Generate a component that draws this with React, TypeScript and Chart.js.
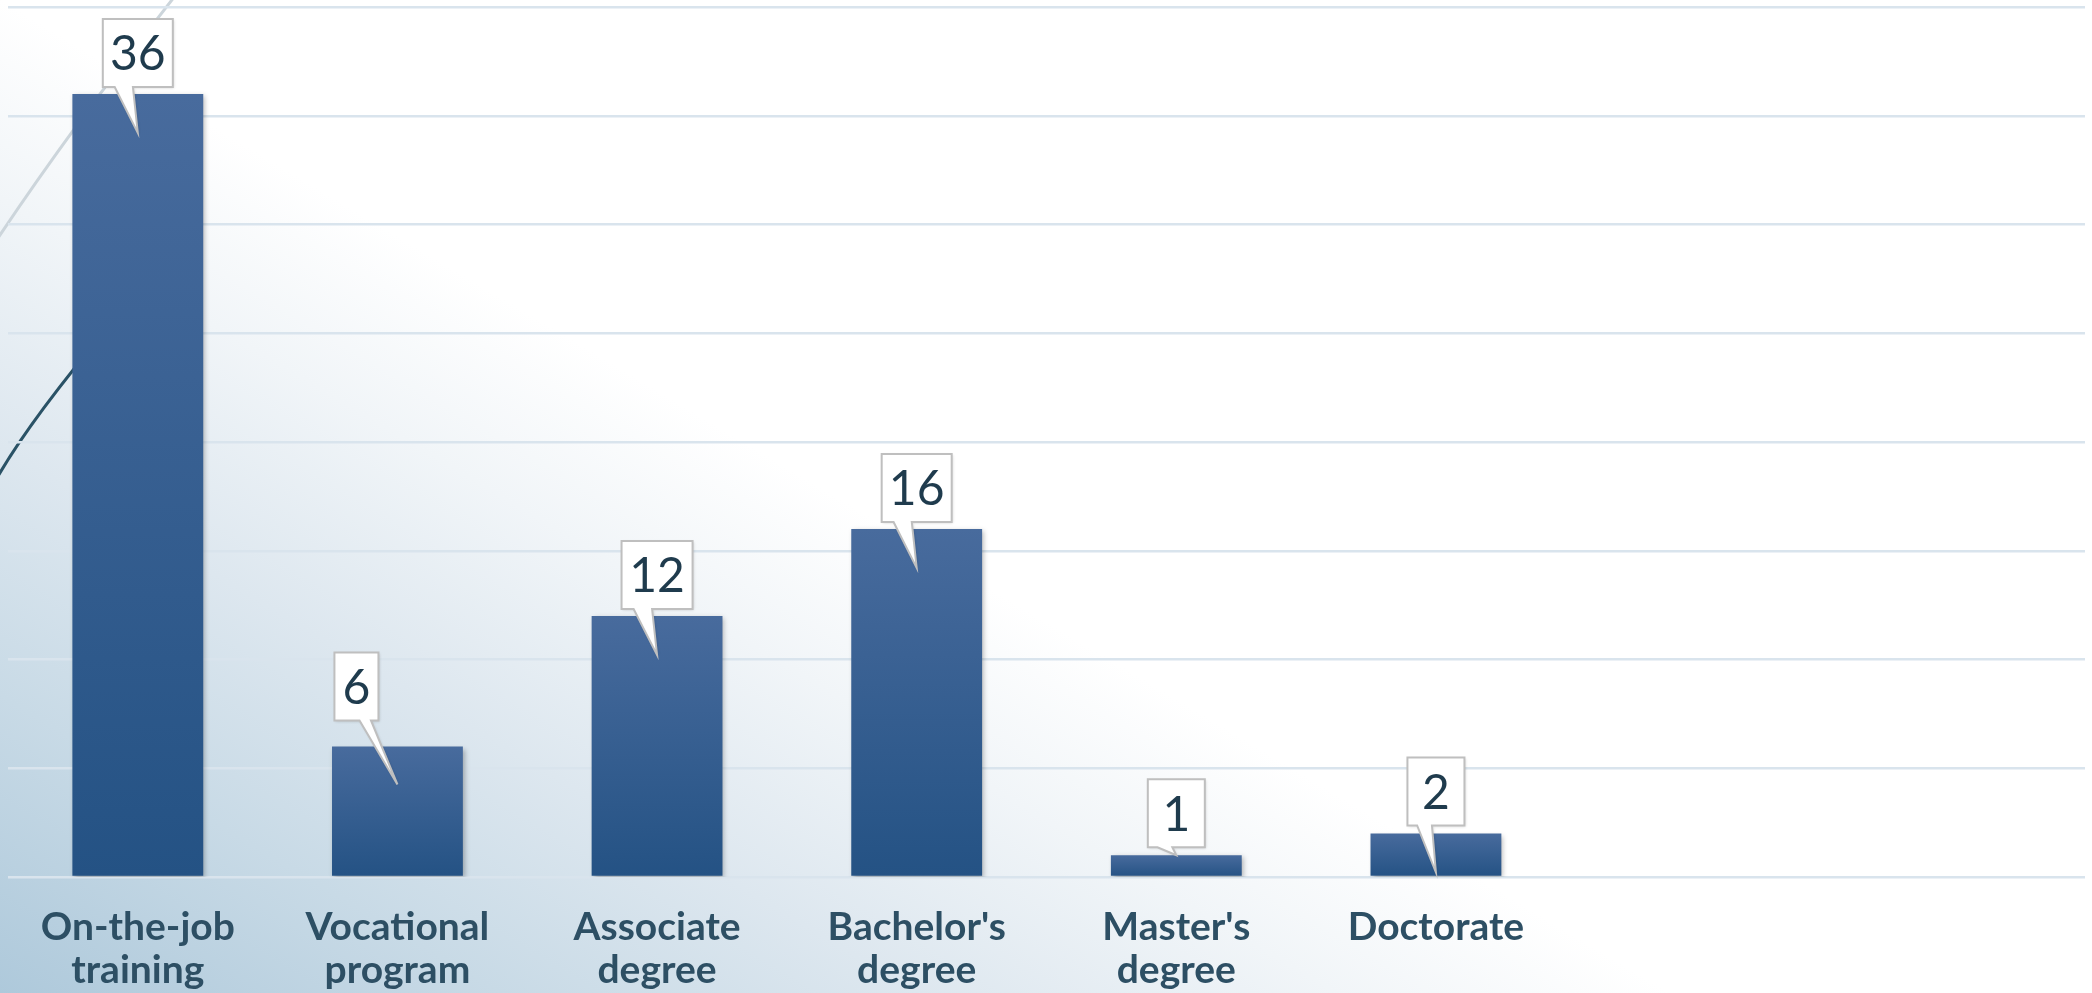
import { useEffect, useRef } from 'react';
import { Chart, registerables } from 'chart.js';

Chart.register(...registerables);

// ---- data ----
const categories: (string | string[])[] = [
  ['On-the-job', 'training'],
  ['Vocational', 'program'],
  ['Associate', 'degree'],
  ["Bachelor's", 'degree'],
  ["Master's", 'degree'],
  'Doctorate',
  '',
  '',
];
const values: (number | null)[] = [36, 6, 12, 16, 1, 2, null, null];
const yMin = 0;
const yMax = 40;
const yStep = 5;

// ---- callout styling (offset of box from bar centre, gap above bar, pointer depth into bar, box width) ----
const calloutDx = [0, -41, 0, 0, 0, 0];
const calloutGap = [7, 26, 7, 7, 8, 8];
const calloutDepth = [39, 38, 39, 39, 0, 39];
const calloutWidth = [70, 44, 71, 70, 57, 57];

const W = 2092;
const H = 993;
const LABEL_FONT = "'Lato', 'DejaVu Sans', sans-serif";
const TEXT_COLOR = '#2D4F64';

const backgroundPlugin = {
  id: 'slideBackground',
  beforeDraw(chart: any) {
    const ctx = chart.ctx as CanvasRenderingContext2D;
    ctx.save();
    const nx = 0.5111, ny = -0.8596, d = 854;
    const g = ctx.createLinearGradient(0, H, nx * d, H + ny * d);
    g.addColorStop(0, '#AEC9DB');
    g.addColorStop(0.3, '#C8DAE6');
    g.addColorStop(0.55, '#DDE7EF');
    g.addColorStop(0.8, '#F1F5F8');
    g.addColorStop(1, '#FFFFFF');
    ctx.fillStyle = g;
    ctx.fillRect(0, 0, W, H);

    ctx.lineCap = 'round';
    ctx.strokeStyle = '#CCD5DB';
    ctx.lineWidth = 3;
    ctx.beginPath();
    ctx.moveTo(-2, 238);
    ctx.quadraticCurveTo(70, 130, 175, -4);
    ctx.stroke();

    ctx.strokeStyle = '#2A5266';
    ctx.lineWidth = 3;
    ctx.beginPath();
    ctx.moveTo(-3, 478);
    ctx.quadraticCurveTo(30, 420, 110, 325);
    ctx.stroke();
    ctx.restore();
  },
};

const calloutPlugin = {
  id: 'callouts',
  beforeDatasetsDraw(chart: any) {
    const ctx = chart.ctx as CanvasRenderingContext2D;
    ctx.save();
    ctx.shadowColor = 'rgba(0,0,0,0.28)';
    ctx.shadowBlur = 5;
    ctx.shadowOffsetX = 2;
    ctx.shadowOffsetY = 2;
  },
  afterDatasetsDraw(chart: any) {
    const ctx = chart.ctx as CanvasRenderingContext2D;
    ctx.restore();
    const meta = chart.getDatasetMeta(0);
    meta.data.forEach((bar: any, i: number) => {
      const v = values[i];
      if (v === null || v === undefined) return;
      const w = calloutWidth[i];
      const h = 68;
      const cx = bar.x + calloutDx[i];
      const bottom = bar.y - calloutGap[i];
      const top = bottom - h;
      const left = cx - w / 2;
      const right = cx + w / 2;
      const tipX = bar.x;
      const tipY = bar.y + calloutDepth[i];
      const frac = tipX > right ? 0.7 : 0.3;
      const bc = left + frac * w;
      const bh = 0.13 * w;

      ctx.save();
      ctx.beginPath();
      ctx.moveTo(left, top);
      ctx.lineTo(right, top);
      ctx.lineTo(right, bottom);
      ctx.lineTo(bc + bh, bottom);
      ctx.lineTo(tipX, tipY);
      ctx.lineTo(bc - bh, bottom);
      ctx.lineTo(left, bottom);
      ctx.closePath();
      ctx.shadowColor = 'rgba(0,0,0,0.18)';
      ctx.shadowBlur = 3;
      ctx.shadowOffsetX = 1;
      ctx.shadowOffsetY = 1;
      ctx.fillStyle = '#FFFFFF';
      ctx.fill();
      ctx.shadowColor = 'transparent';
      ctx.lineWidth = 2;
      ctx.lineJoin = 'miter';
      ctx.strokeStyle = '#BFBFBF';
      ctx.stroke();

      ctx.fillStyle = '#1F3B4D';
      ctx.font = `400 48px ${LABEL_FONT}`;
      ctx.textAlign = 'center';
      ctx.textBaseline = 'middle';
      ctx.fillText(String(v), cx, (top + bottom) / 2 + 2);
      ctx.restore();
    });
  },
};

export default function App() {
  const ref = useRef<HTMLCanvasElement | null>(null);

  useEffect(() => {
    if (!ref.current) return;
    const chart = new Chart(ref.current, {
      type: 'bar',
      data: {
        labels: categories,
        datasets: [
          {
            data: values,
            backgroundColor: (c: any) => {
              const chartObj = c.chart;
              const ys = chartObj.scales?.y;
              const v = c.raw;
              if (!ys || v === null || v === undefined) return '#3A5F90';
              const yTop = ys.getPixelForValue(v);
              const yBase = ys.getPixelForValue(0);
              if (!Number.isFinite(yTop) || !Number.isFinite(yBase) || yTop === yBase) return '#3A5F90';
              const g = chartObj.ctx.createLinearGradient(0, yTop, 0, yBase);
              g.addColorStop(0, '#486B9D');
              g.addColorStop(1, '#245284');
              return g;
            },
            borderWidth: 0,
            barPercentage: 0.504,
            categoryPercentage: 1,
          },
        ],
      },
      options: {
        responsive: false,
        animation: false,
        events: [],
        layout: { padding: { left: 8, right: 7, top: 7, bottom: 0 } },
        plugins: {
          legend: { display: false },
          tooltip: { enabled: false },
          title: { display: false },
        },
        scales: {
          x: {
            grid: { display: false },
            border: { display: false },
            ticks: {
              color: TEXT_COLOR,
              font: { family: LABEL_FONT, size: 39, weight: 'bold', lineHeight: 1.1 },
              padding: 21,
              maxRotation: 0,
              minRotation: 0,
              autoSkip: false,
            },
            afterFit: (s: any) => {
              s.height = 116;
            },
          },
          y: {
            min: yMin,
            max: yMax,
            ticks: { display: false, stepSize: yStep },
            grid: { color: '#D9E4ED', lineWidth: 2.5, drawTicks: false },
            border: { display: false },
            afterFit: (s: any) => {
              s.width = 0;
            },
          },
        },
      },
      plugins: [backgroundPlugin, calloutPlugin],
    });
    chart.update();
    return () => chart.destroy();
  }, []);

  return (
    <div style={{ position: 'fixed', left: 0, top: 0, width: W, height: H, overflow: 'hidden' }}>
      <canvas ref={ref} width={W} height={H} style={{ display: 'block', width: W, height: H }} />
    </div>
  );
}
